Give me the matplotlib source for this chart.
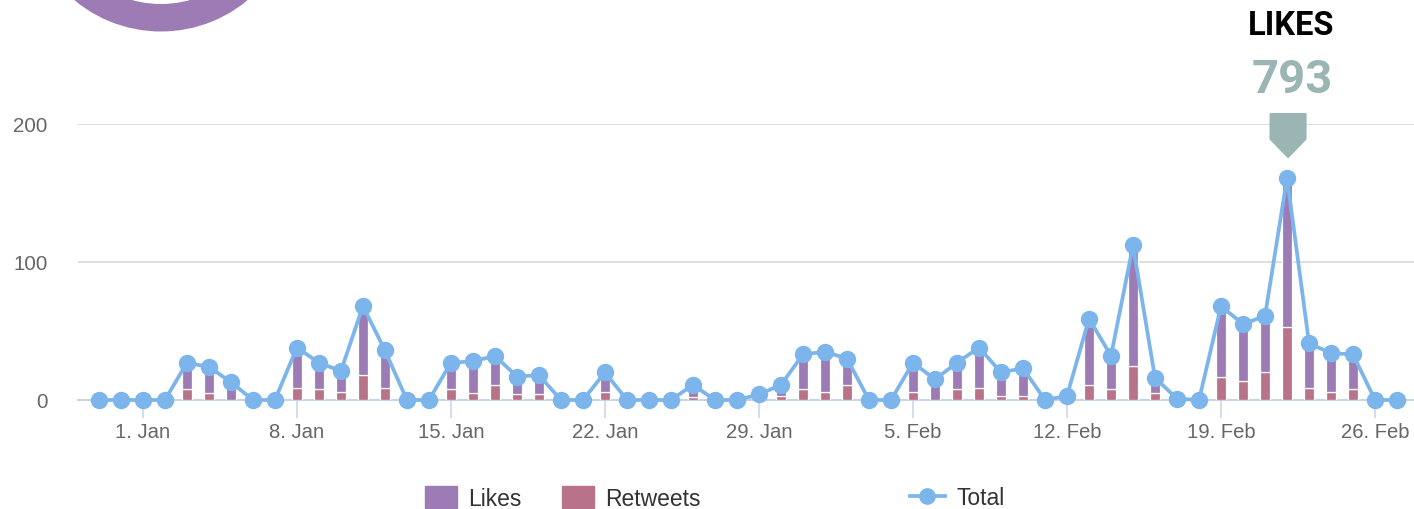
import matplotlib
matplotlib.use("Agg")
import matplotlib.pyplot as plt
import matplotlib.dates as mdates
import matplotlib.transforms as mtransforms
from matplotlib.patches import Wedge, Polygon, Patch
from matplotlib.lines import Line2D
import pandas as pd

# daily engagement, 30 Dec - 27 Feb
days = pd.date_range("2016-12-30", "2017-02-27", freq="D")
likes = [0, 0, 0, 0, 19, 19, 13, 0, 0, 29,
         19, 15, 50, 27, 0, 0, 19, 23, 21, 13,
         14, 0, 0, 14, 0, 0, 0, 9, 0, 0,
         3, 8, 25, 29, 19, 0, 0, 21, 15, 19,
         29, 17, 20, 0, 2, 48, 24, 87, 11, 1,
         0, 51, 41, 41, 108, 32, 28, 25, 0, 0]
retweets = [0, 0, 0, 0, 8, 5, 0, 0, 0, 9,
            8, 6, 18, 9, 0, 0, 8, 5, 11, 4,
            4, 0, 0, 6, 0, 0, 0, 2, 0, 0,
            1, 3, 8, 6, 11, 0, 0, 6, 0, 8,
            9, 3, 3, 0, 1, 11, 8, 25, 5, 0,
            0, 17, 14, 20, 53, 9, 6, 8, 0, 0]
total = [0, 0, 0, 0, 27, 24, 13, 0, 0, 38,
         27, 21, 68, 36, 0, 0, 27, 28, 32, 17,
         18, 0, 0, 20, 0, 0, 0, 11, 0, 0,
         4, 11, 33, 35, 30, 0, 0, 27, 15, 27,
         38, 20, 23, 0, 3, 59, 32, 112, 16, 1,
         0, 68, 55, 61, 161, 41, 34, 33, 0, 0]
peak_label = "LIKES"
peak_value = "793"

LIKE_C = "#9d7bb5"
RT_C = "#b8728a"
LINE_C = "#7cb5ec"
BADGE_C = "#9bb5b5"
AXIS_C = "#c6d4e6"
TEXT_C = "#666666"

plt.rcParams["font.family"] = ["Liberation Sans", "DejaVu Sans"]

fig = plt.figure(figsize=(14.14, 5.10), dpi=100)
ax = fig.add_axes([78 / 1414, 109 / 510, 1 - 78 / 1414, 276 / 510])

x = mdates.date2num(days)

ax.bar(x, retweets, width=0.48, color=RT_C, edgecolor="white", linewidth=0.9, zorder=2)
ax.bar(x, likes, width=0.48, bottom=retweets, color=LIKE_C, edgecolor="white",
       linewidth=0.9, zorder=2)
ax.plot(x, total, color=LINE_C, lw=2.7, marker="o", ms=11.5, mec=LINE_C,
        zorder=4, clip_on=False)

ax.set_ylim(0, 200)
ax.set_yticks([0, 100, 200])
ax.set_xlim(x[0] - 0.95, x[0] + 59.77)
ticks = [d for d in pd.date_range("2017-01-01", "2017-02-26", freq="7D")]
ax.set_xticks(mdates.date2num(ticks))
ax.set_xticklabels([f"{d.day}. {d.strftime('%b')}" for d in ticks])

for s in ["top", "right", "left"]:
    ax.spines[s].set_visible(False)
ax.spines["bottom"].set_color(AXIS_C)
ax.spines["bottom"].set_linewidth(1.5)
ax.spines["bottom"].set_zorder(1)

ax.tick_params(axis="x", direction="out", length=13, width=1.1, color=AXIS_C,
               labelsize=14.6, labelcolor=TEXT_C, pad=3)
ax.tick_params(axis="y", length=0, labelsize=14.8, labelcolor=TEXT_C, pad=22)
for yv in [100, 200]:
    ax.axhline(yv, color="#d9d9d9", lw=1.2, zorder=0)

# badge over the peak day
peak_i = total.index(max(total))
anchor = mtransforms.ScaledTranslation(x[peak_i], 200, ax.transData)
badge_t = fig.dpi_scale_trans + anchor
badge = Polygon([(-0.165, 0.10), (0.185, 0.10), (0.185, -0.15), (0.01, -0.33),
                 (-0.165, -0.15)], closed=True, transform=badge_t,
                facecolor=BADGE_C, edgecolor=BADGE_C, lw=1.5, joinstyle="round",
                clip_on=False, zorder=5)
fig.add_artist(badge)
ax.annotate(peak_label, (x[peak_i], 200), xytext=(4, 90), textcoords="offset pixels",
            ha="center", va="baseline", fontsize=23.5, fontweight="bold",
            family="Roboto", color="black", annotation_clip=False)
ax.annotate(peak_value, (x[peak_i], 200), xytext=(5, 32), textcoords="offset pixels",
            ha="center", va="baseline", fontsize=34, fontweight="bold",
            family="Roboto", color=BADGE_C, annotation_clip=False)

# ring gauge peeking in at the top left
ring = Wedge((1.61, 6.13), 1.355, 0, 360, width=0.275, transform=fig.dpi_scale_trans,
             facecolor=LIKE_C, edgecolor="none")
fig.add_artist(ring)

# legends
leg1 = fig.legend(handles=[Patch(color=LIKE_C, label="Likes"),
                           Patch(color=RT_C, label="Retweets")],
                  loc="center left", bbox_to_anchor=(425 / 1414, 11 / 510), ncol=2,
                  frameon=False, fontsize=16.5, handlelength=1.39, handleheight=1.09,
                  handletextpad=0.48, columnspacing=1.78, borderpad=0, borderaxespad=0,
                  labelcolor="#333333")
leg2 = fig.legend(handles=[Line2D([], [], color=LINE_C, lw=2.7, marker="o", ms=11,
                                  label="Total")],
                  loc="center left", bbox_to_anchor=(910 / 1414, 11 / 510),
                  frameon=False, fontsize=16.5, handlelength=1.52, handletextpad=0.52,
                  borderpad=0, borderaxespad=0, labelcolor="#333333")

fig.savefig("out.png", dpi=100)
